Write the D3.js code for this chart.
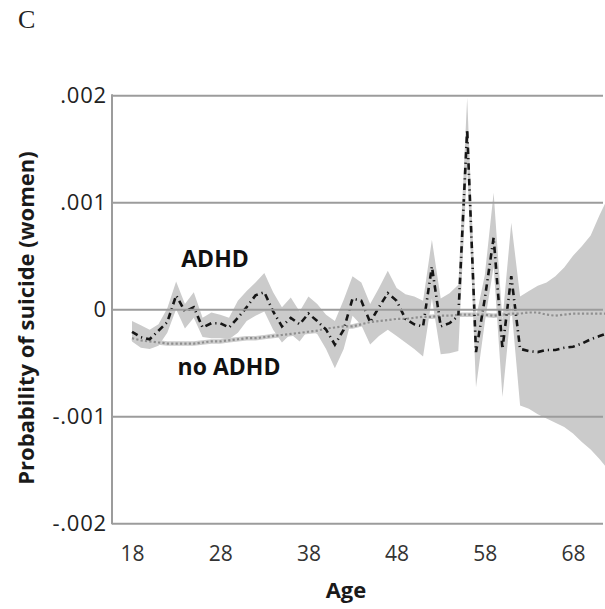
<!DOCTYPE html>
<html>
<head>
<meta charset="utf-8">
<script src="https://cdn.jsdelivr.net/npm/d3@7"></script>
<style>
  html, body { margin: 0; padding: 0; background: #fff; }
  svg { display: block; }
</style>
</head>
<body>
<svg id="chart" width="605" height="609"></svg>
<script>
// ---- data ----
const ages = d3.range(18, 73);
const adhd = [-0.00021,-0.00026,-0.00028,-0.0002,-0.00012,0.00013,-0.00002,0.00002,-0.00017,-0.00013,
              -0.00013,-0.00017,-0.00008,0.00002,0.00013,0.00016,-0.00002,-0.00016,-0.00008,-0.00014,
              -0.00004,-0.00011,-0.00019,-0.00033,-0.00019,0.0001,0.00008,-0.00012,0.00002,0.00015,
              0.00008,-0.00009,-0.00014,-0.00016,0.0004,-0.00016,-0.00013,-0.00006,0.00168,-0.0004,
              0.0001,0.00067,-0.00037,0.00031,-0.00037,-0.00039,-0.0004,-0.00038,-0.00038,-0.00036,
              -0.00035,-0.00032,-0.00028,-0.00025,-0.00022];
const adhdLo = [-0.0003,-0.00036,-0.00037,-0.00034,-0.00022,0.0,-0.00018,-0.00008,-0.00026,-0.00027,
                -0.00027,-0.00028,-0.00022,-0.00011,-0.00006,-0.00002,-0.00019,-0.00031,-0.00023,-0.0003,
                -0.00019,-0.00023,-0.00037,-0.00055,-0.00037,-0.00006,-0.00015,-0.00033,-0.00025,-0.00019,
                -0.00025,-0.00031,-0.00037,-0.00044,0.0001,-0.00042,-0.00041,-0.00039,0.00135,-0.00073,
                -0.00012,0.0004,-0.00082,0.00003,-0.0009,-0.00093,-0.00098,-0.00102,-0.00106,-0.0011,
                -0.00116,-0.00124,-0.00131,-0.0014,-0.0015];
const adhdHi = [-0.00011,-0.00015,-0.00019,-0.00014,0.00001,0.00026,0.00005,0.00016,-0.00008,-0.00003,
                -0.00005,-0.00008,0.00008,0.00017,0.00025,0.00034,0.00016,0.00002,0.00011,-0.00002,
                0.00012,0.00005,-0.00005,-0.00011,0.00009,0.00031,0.00025,0.00005,0.0002,0.00036,
                0.0002,0.00014,0.00012,0.00008,0.00065,0.0001,0.00015,0.00023,0.00198,-0.00008,
                0.00032,0.00109,-0.0001,0.00081,0.00012,0.00017,0.00022,0.00025,0.00031,0.00039,
                0.0005,0.00059,0.00069,0.00088,0.00105];
const noAdhd = [-0.00027,-0.00029,-0.0003,-0.00031,-0.00032,-0.00032,-0.00032,-0.00032,-0.00031,-0.0003,
                -0.0003,-0.00029,-0.00028,-0.00027,-0.00027,-0.00026,-0.00025,-0.00024,-0.00023,-0.00022,
                -0.00021,-0.0002,-0.00018,-0.00017,-0.00016,-0.00016,-0.00014,-0.00012,-0.00011,-0.0001,
                -0.00009,-0.00009,-0.00008,-0.00007,-0.00007,-0.00006,-0.00006,-0.00005,-0.00005,-0.00005,
                -0.00005,-0.00006,-0.00005,-0.00004,-0.00004,-0.00003,-0.00003,-0.00005,-0.00006,-0.00005,
                -0.00004,-0.00004,-0.00004,-0.00004,-0.00004];
const xTicks = [18, 28, 38, 48, 58, 68];
const yTicks = [0.002, 0.001, 0, -0.001, -0.002];
const yTickLabels = [".002", ".001", "0", "-.001", "-.002"];

// ---- layout ----
const svg = d3.select("#chart");
const mLeft = 112, mRight = 603, mTop = 95.3, mBottom = 523.3;
const x = d3.scaleLinear().domain([15.73, 71.4]).range([mLeft, mRight]);
const y = d3.scaleLinear().domain([-0.002, 0.002]).range([mBottom, mTop]);

const rows = ages.map((a, i) => ({a, v: adhd[i], lo: adhdLo[i], hi: adhdHi[i], n: noAdhd[i]}));

svg.append("defs").append("clipPath").attr("id", "clip")
  .append("rect").attr("x", mLeft).attr("y", 0).attr("width", 605 - mLeft).attr("height", 609);

const plot = svg.append("g").attr("clip-path", "url(#clip)");

// CI band
plot.append("path").datum(rows)
  .attr("d", d3.area().x(d => x(d.a)).y0(d => y(d.lo)).y1(d => y(d.hi)))
  .attr("fill", "#cbcbcb");

// gridlines + y labels
const yAxis = d3.axisLeft(y).tickValues(yTicks).tickSize(-(mRight - mLeft))
  .tickFormat((d, i) => yTickLabels[i]).tickPadding(6);
const gy = svg.append("g").attr("transform", `translate(${mLeft},0)`).call(yAxis);
gy.select(".domain").attr("stroke", "#9c9c9c").attr("stroke-width", 2)
  .attr("d", `M0,${mTop - 1}V${mBottom + 1}`);
gy.selectAll(".tick line").attr("stroke", "#9c9c9c").attr("stroke-width", 2);
gy.selectAll(".tick text")
  .attr("font-family", "'Open Sans', sans-serif").attr("font-size", 22)
  .attr("fill", "#222").attr("x", -5).attr("letter-spacing", 0.8);

// no ADHD line
const lineN = d3.line().x(d => x(d.a)).y(d => y(d.n));
plot.append("path").datum(rows).attr("d", lineN)
  .attr("fill", "none").attr("stroke", "#cdcdcd").attr("stroke-width", 4.5);
plot.append("path").datum(rows).attr("d", lineN)
  .attr("fill", "none").attr("stroke", "#8f8f8f").attr("stroke-width", 2.2)
  .attr("stroke-dasharray", "2.2,2.2");

// ADHD line
plot.append("path").datum(rows)
  .attr("d", d3.line().x(d => x(d.a)).y(d => y(d.v)))
  .attr("fill", "none").attr("stroke", "#161616").attr("stroke-width", 2.6)
  .attr("stroke-dasharray", "6.5,4,1.2,4");

// x axis labels
const xAxis = d3.axisBottom(x).tickValues(xTicks).tickSize(0).tickPadding(0);
const gx = svg.append("g").attr("transform", `translate(0,${mBottom})`).call(xAxis);
gx.select(".domain").remove();
gx.selectAll(".tick text")
  .attr("font-family", "'Open Sans', sans-serif").attr("font-size", 21)
  .attr("fill", "#333").attr("dy", null).attr("y", 37.5);

// titles
svg.append("text").attr("x", 346).attr("y", 598).attr("text-anchor", "middle")
  .attr("font-family", "'Open Sans', sans-serif").attr("font-weight", "bold").attr("font-size", 22)
  .attr("fill", "#1a1a1a").text("Age");

svg.append("text").attr("transform", "translate(34,318) rotate(-90)").attr("text-anchor", "middle")
  .attr("font-family", "'Open Sans', sans-serif").attr("font-weight", "bold").attr("font-size", 22)
  .attr("fill", "#1a1a1a").text("Probability of suicide (women)");

svg.append("text").attr("x", 18).attr("y", 28)
  .attr("font-family", "'Liberation Serif', 'Times New Roman', serif").attr("font-size", 26)
  .attr("fill", "#222").text("C");

svg.append("text").attr("x", 215).attr("y", 267).attr("text-anchor", "middle")
  .attr("font-family", "'Open Sans', sans-serif").attr("font-weight", "bold").attr("font-size", 23)
  .attr("fill", "#111").text("ADHD");

svg.append("text").attr("x", 229).attr("y", 375).attr("text-anchor", "middle")
  .attr("font-family", "'Open Sans', sans-serif").attr("font-weight", "bold").attr("font-size", 23)
  .attr("fill", "#111").text("no ADHD");
</script>
</body>
</html>
